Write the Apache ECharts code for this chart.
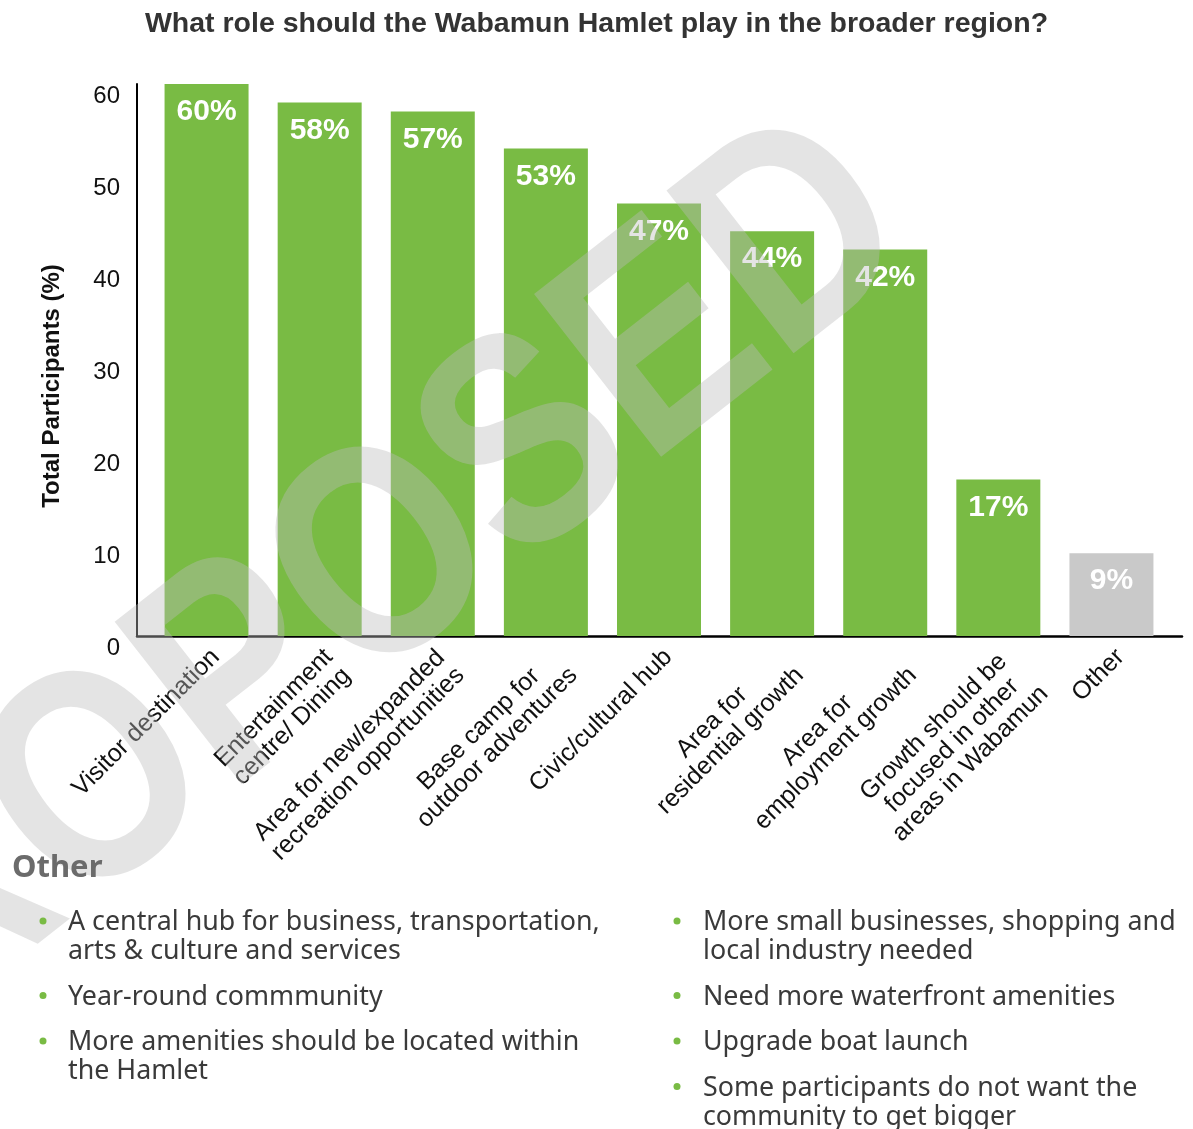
<!DOCTYPE html>
<html>
<head>
<meta charset="utf-8">
<title>Wabamun Hamlet – regional role</title>
<script src="https://cdn.jsdelivr.net/npm/echarts@6/dist/echarts.min.js"></script>
<style>
  html, body { margin: 0; padding: 0; background: #fff; }
  #chart { width: 1193px; height: 1129px; }
</style>
</head>
<body>
<div id="chart"></div>
<script>
// Survey results: share of participants choosing each role
const categories = [
  'Visitor destination',
  'Entertainment\ncentre/ Dining',
  'Area for new/expanded\nrecreation opportunities',
  'Base camp for\noutdoor adventures',
  'Civic/cultural hub',
  'Area for\nresidential growth',
  'Area for\nemployment growth',
  'Growth should be\nfocused in other\nareas in Wabamun',
  'Other'
];
const values = [60, 58, 57, 53, 47, 44, 42, 17, 9];
const yTicks = [0, 10, 20, 30, 40, 50, 60];

// Open-ended "Other" responses
const otherLeft = [
  'A central hub for business, transportation,\narts & culture and services',
  'Year-round commmunity',
  'More amenities should be located within\nthe Hamlet'
];
const otherRight = [
  'More small businesses, shopping and\nlocal industry needed',
  'Need more waterfront amenities',
  'Upgrade boat launch',
  'Some participants do not want the\ncommunity to get bigger'
];

const titleText = 'What role should the Wabamun Hamlet play in the broader region?';
const yAxisTitle = 'Total Participants (%)';
const otherHeading = 'Other';
const watermark = 'PROPOSED';

const GREEN = '#79bb44';
const GRAY = '#c9c9c9';
const TEXT_DARK = '#3a3a3a';
const SANS = '"Liberation Sans", Arial, sans-serif';

const chart = echarts.init(document.getElementById('chart'), null, { renderer: 'canvas' });

// Bulleted list blocks for the "Other" responses
function bulletList(items, textX, dotX, firstY) {
  const lineH = 29, gap = 16.5;
  const out = [];
  let y = firstY;
  items.forEach(txt => {
    const lines = txt.split('\n').length;
    out.push({
      type: 'circle', z: 120,
      shape: { cx: dotX, cy: y, r: 3.5 },
      style: { fill: GREEN }
    });
    out.push({
      type: 'text', z: 120, x: textX, y: y - lineH / 2 + 1.5,
      style: {
        text: txt, fill: TEXT_DARK,
        font: '26.8px "Noto Sans", sans-serif',
        lineHeight: lineH, align: 'left', verticalAlign: 'top'
      }
    });
    y += lines * lineH + gap;
  });
  return out;
}

const option = {
  animation: false,
  backgroundColor: '#fff',
  title: {
    text: titleText,
    left: 'center', top: 5,
    textStyle: { fontFamily: SANS, fontWeight: 'bold', fontSize: 28.5, color: '#333' }
  },
  grid: [
    { left: 150, right: 25, top: 84, bottom: 493 },
    { left: 137, right: 11, top: 84, bottom: 493 }
  ],
  xAxis: [
    {
      type: 'category', gridIndex: 0, data: categories,
      axisLine: { show: false }, axisTick: { show: false },
      axisLabel: {
        interval: 0, rotate: 45, margin: 8, verticalAlign: 'top',
        formatter: v => v.split('\n').map(l => '{c|' + l + '}').join('\n'),
        rich: {
          c: { align: 'center', fontSize: 25, lineHeight: 26, fontFamily: SANS, color: '#111' }
        }
      }
    },
    {
      type: 'value', gridIndex: 1, min: 0, max: 1,
      axisLine: { show: true, onZero: false, lineStyle: { color: '#000', width: 2.5 } },
      axisTick: { show: false }, axisLabel: { show: false }, splitLine: { show: false }
    }
  ],
  yAxis: [
    {
      type: 'value', gridIndex: 0, min: 0, max: 60, interval: 10,
      show: false, splitLine: { show: false }
    },
    {
      type: 'value', gridIndex: 1, min: 0, max: 60, interval: 10,
      axisLine: { show: true, lineStyle: { color: '#000', width: 2 } },
      axisTick: { show: false }, splitLine: { show: false },
      axisLabel: {
        margin: 17, fontSize: 24, color: '#111', fontFamily: SANS,
        verticalAlign: 'top',
        formatter: v => (yTicks.includes(v) ? String(v) : '')
      }
    }
  ],
  series: [
    {
      type: 'bar', xAxisIndex: 0, yAxisIndex: 0,
      data: values, barWidth: 84,
      itemStyle: { color: p => (p.name === 'Other' ? GRAY : GREEN) },
      label: {
        show: true, position: 'insideTop', distance: 13,
        formatter: '{c}%', color: '#fff', fontWeight: 'bold', fontSize: 30,
        fontFamily: SANS
      }
    }
  ],
  graphic: [
    {
      type: 'text', x: 52, y: 386, rotation: Math.PI / 2,
      style: {
        text: yAxisTitle, fill: '#111',
        font: 'bold 24px ' + SANS,
        align: 'center', verticalAlign: 'middle'
      }
    },
    // Draft stamp laid across the chart
    {
      type: 'text', z: 100, x: 310, y: 626,
      rotation: 38 * Math.PI / 180, scaleX: 0.84,
      silent: true,
      style: {
        text: watermark, fill: 'rgba(188,188,188,0.4)',
        font: 'bold 300px ' + SANS,
        align: 'center', verticalAlign: 'middle'
      }
    },
    {
      type: 'text', z: 120, x: 12, y: 868,
      style: {
        text: otherHeading, fill: '#6b6b6b',
        font: 'bold 31px "Noto Sans", sans-serif',
        align: 'left', verticalAlign: 'middle'
      }
    },
    ...bulletList(otherLeft, 68, 43, 921),
    ...bulletList(otherRight, 703, 677, 921)
  ]
};

chart.setOption(option);
</script>
</body>
</html>
